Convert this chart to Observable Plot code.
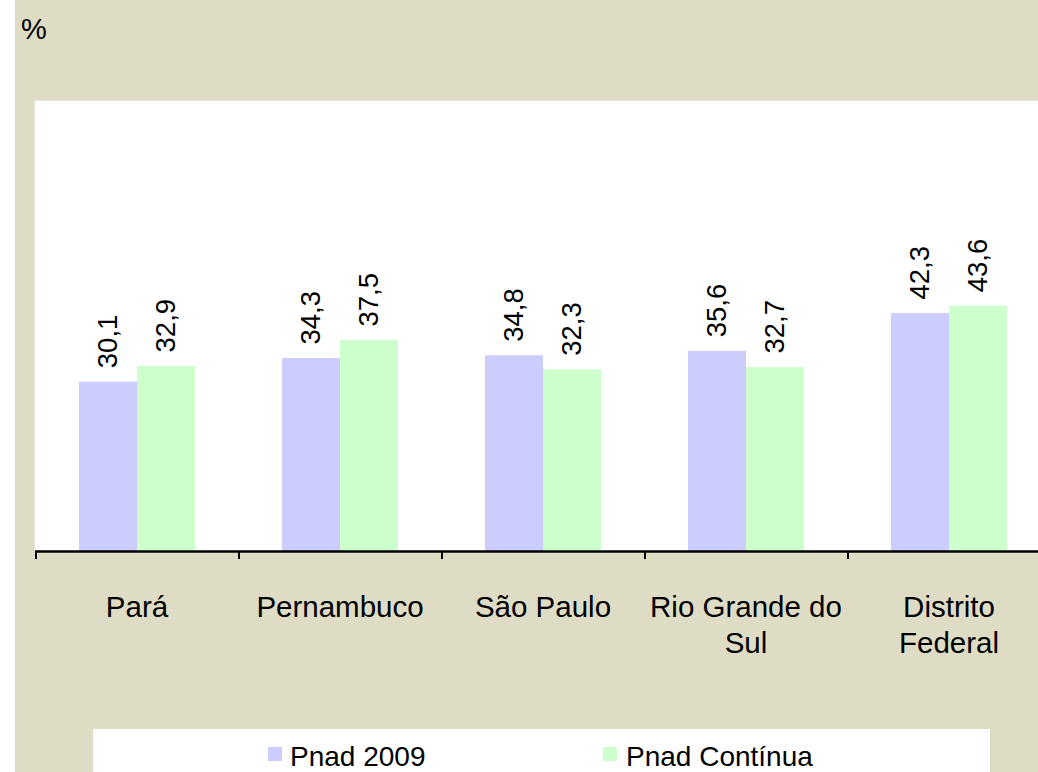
<!DOCTYPE html>
<html><head><meta charset="utf-8">
<script src="https://cdn.jsdelivr.net/npm/d3@7"></script>
<script src="https://cdn.jsdelivr.net/npm/@observablehq/plot@0.6"></script>
<style>
html,body{margin:0;padding:0;background:#fff;overflow:hidden;}
#wrap{position:relative;width:1038px;height:772px;font-family:'Liberation Sans',Arial,sans-serif;color:#000;}
#bg{position:absolute;left:15px;top:0;width:1023px;height:772px;background:#dedcc4;}
#unit{position:absolute;left:21px;top:15px;font-size:29px;line-height:28px;}
#chart{position:absolute;left:0;top:0;}
#legend{position:absolute;left:93px;top:729px;width:897px;height:43px;background:#fff;overflow:hidden;}
.lt{position:absolute;top:14px;font-size:28px;line-height:28px;white-space:nowrap;}
.sw{position:absolute;top:18px;width:14px;height:14px;}
</style>
</head><body>
<div id="wrap">
  <div id="bg"></div>
  <div id="unit">%</div>
  <div id="chart"></div>
  <div id="legend"></div>
</div>
<script>
const states = ["Pará", "Pernambuco", "São Paulo", "Rio Grande do Sul", "Distrito Federal"];
const stateLabels = ["Pará", "Pernambuco", "São Paulo", "Rio Grande do\nSul", "Distrito\nFederal"];
const series = ["Pnad 2009", "Pnad Contínua"];
const colors = ["#ccccff", "#ccffcc"];
const pnad2009 = [30.1, 34.3, 34.8, 35.6, 42.3];
const pnadContinua = [32.9, 37.5, 32.3, 32.7, 43.6];

const data = states.flatMap((s, i) => [
  {state: s, series: series[0], value: pnad2009[i]},
  {state: s, series: series[1], value: pnadContinua[i]}
]);
const fmt = v => v.toFixed(1).replace(".", ",");

const chart = Plot.plot({
  width: 1038,
  height: 772,
  marginTop: 101,
  marginBottom: 221,
  marginLeft: 35,
  marginRight: 0,
  style: {background: "transparent", fontFamily: "'Liberation Sans', Arial, sans-serif", color: "#000"},
  facet: {data, x: "state"},
  fx: {domain: states, range: [35, 1050], padding: 0, axis: null},
  x: {domain: series, paddingInner: 0, paddingOuter: 0.735, axis: null},
  y: {domain: [0, 80], axis: null},
  color: {domain: series, range: colors},
  marks: [
    Plot.frame({fill: "white", stroke: "white", strokeWidth: 1.5}),
    Plot.barY(data, {x: "series", y: "value", fill: "series"}),
    Plot.text(data, {x: "series", y: "value", text: d => fmt(d.value), rotate: -90, textAnchor: "start", dy: -14, fontSize: 27.5, fill: "#000"}),
    Plot.ruleY([0], {stroke: "#000", strokeWidth: 2.5}),
    Plot.ruleX(data, {filter: d => d.series === series[0], x: "series", y1: 0, y2: 0, dx: -72.5, insetBottom: -8, stroke: "#000", strokeWidth: 2}),
    Plot.text(data, {filter: d => d.series === series[0], text: d => stateLabels[states.indexOf(d.state)], frameAnchor: "bottom", lineAnchor: "top", dy: 40, fontSize: 29.5, lineHeight: 1.22, fill: "#000"})
  ]
});
document.getElementById("chart").appendChild(chart);

const legend = document.getElementById("legend");
const swX = [175, 510], txX = [197, 533];
series.forEach((s, i) => {
  const sw = document.createElement("div");
  sw.className = "sw"; sw.style.left = swX[i] + "px"; sw.style.background = colors[i];
  legend.appendChild(sw);
  const t = document.createElement("div");
  t.className = "lt"; t.style.left = txX[i] + "px"; t.textContent = s;
  legend.appendChild(t);
});
</script>
</body></html>
